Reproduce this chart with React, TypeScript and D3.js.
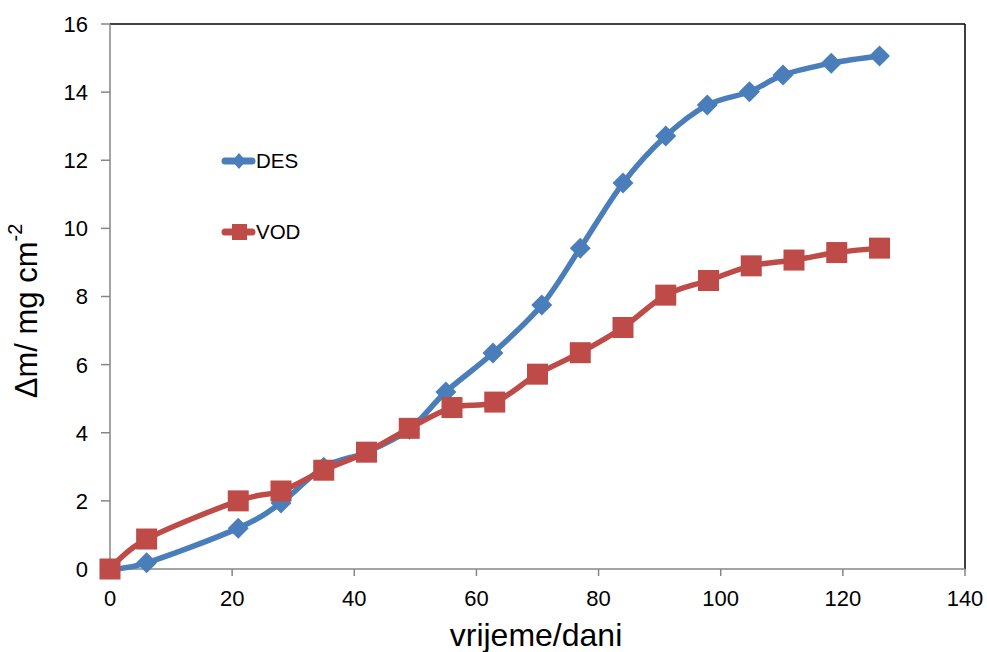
import React from "react";
import * as d3 from "d3";

const desX = [0, 6, 21, 28, 35, 42, 49, 55, 62.7, 70.7, 77, 84, 91, 97.8, 104.7, 110.2, 118.1, 126];
const desY = [0, 0.18, 1.2, 1.94, 2.99, 3.43, 4.1, 5.2, 6.34, 7.75, 9.42, 11.33, 12.71, 13.62, 14.01, 14.5, 14.85, 15.06];
const vodX = [0, 6, 21, 28, 35, 42, 49, 56, 63, 70, 77, 84, 91, 98, 105, 112, 119, 126];
const vodY = [0, 0.88, 2.0, 2.29, 2.9, 3.43, 4.13, 4.74, 4.9, 5.72, 6.35, 7.09, 8.04, 8.47, 8.9, 9.07, 9.29, 9.42];
const xTicks = [0, 20, 40, 60, 80, 100, 120, 140];
const yTicks = [0, 2, 4, 6, 8, 10, 12, 14, 16];
const seriesNames = ["DES", "VOD"];

const BLUE = "#4A7EBB";
const RED = "#BE4B48";
const AXIS = "#868686";
const FONT = "'Liberation Sans', Arial, sans-serif";

export default function App() {
  const x = d3.scaleLinear().domain([0, 140]).range([110, 965]);
  const y = d3.scaleLinear().domain([0, 16]).range([569, 24]);
  const line = d3
    .line<[number, number]>()
    .x((d) => x(d[0]))
    .y((d) => y(d[1]))
    .curve(d3.curveCatmullRom.alpha(0));
  const des: [number, number][] = desX.map((v, i) => [v, desY[i]]);
  const vod: [number, number][] = vodX.map((v, i) => [v, vodY[i]]);
  const dsz = 10.5;
  const ssz = 10.5;
  const diamond = (cx: number, cy: number, sx: number, sy: number) =>
    `M${cx},${cy - sy}L${cx + sx},${cy}L${cx},${cy + sy}L${cx - sx},${cy}Z`;

  return (
    <div style={{ position: "absolute", left: 0, top: 0 }}>
      <svg width={987} height={652} style={{ display: "block", background: "#fff" }}>
        {/* frame */}
        <line x1={110} x2={965} y1={24} y2={24} stroke="#000" strokeWidth={1.5} />
        <line x1={965} x2={965} y1={24} y2={569} stroke="#000" strokeWidth={1.5} />
        <line x1={110} x2={110} y1={24} y2={569} stroke={AXIS} strokeWidth={1.5} />
        <line x1={110} x2={965} y1={569} y2={569} stroke={AXIS} strokeWidth={1.5} />
        {yTicks.map((t) => (
          <g key={"y" + t}>
            <line x1={101} x2={110} y1={y(t)} y2={y(t)} stroke={AXIS} strokeWidth={1.5} />
            <text x={88} y={y(t)} dy="0.36em" textAnchor="end" fontFamily={FONT} fontSize={22} fill="#000">
              {t}
            </text>
          </g>
        ))}
        {xTicks.map((t) => (
          <g key={"x" + t}>
            <line x1={x(t)} x2={x(t)} y1={569} y2={576} stroke={AXIS} strokeWidth={1.5} />
            <text x={x(t)} y={598} dy="0.36em" textAnchor="middle" fontFamily={FONT} fontSize={22} fill="#000">
              {t}
            </text>
          </g>
        ))}
        <text x={536} y={646} textAnchor="middle" fontFamily={FONT} fontSize={32} fill="#000">
          vrijeme/dani
        </text>
        <text
          transform="translate(37,311) rotate(-90)"
          textAnchor="middle"
          fontFamily={FONT}
          fontSize={31}
          fill="#000"
        >
          Δm/ mg cm<tspan fontSize={20} dy="-0.75em">-2</tspan>
        </text>

        {/* series */}
        <path d={line(des) || ""} fill="none" stroke={BLUE} strokeWidth={5.5} strokeLinejoin="round" strokeLinecap="round" />
        {des.map((d, i) => (
          <path key={"d" + i} d={diamond(x(d[0]), y(d[1]), dsz, dsz)} fill={BLUE} />
        ))}
        <path d={line(vod) || ""} fill="none" stroke={RED} strokeWidth={5.5} strokeLinejoin="round" strokeLinecap="round" />
        {vod.map((d, i) => (
          <rect key={"v" + i} x={x(d[0]) - ssz} y={y(d[1]) - ssz} width={2 * ssz} height={2 * ssz} fill={RED} />
        ))}

        {/* legend */}
        <line x1={225} x2={252} y1={161} y2={161} stroke={BLUE} strokeWidth={7} strokeLinecap="round" />
        <path d={diamond(239, 161, 7, 8)} fill={BLUE} />
        <text x={256} y={161} dy="0.36em" fontFamily={FONT} fontSize={20.5} fill="#000">
          {seriesNames[0]}
        </text>
        <line x1={225} x2={252} y1={232} y2={232} stroke={RED} strokeWidth={7} strokeLinecap="round" />
        <rect x={232} y={224} width={15} height={16} fill={RED} />
        <text x={256} y={232} dy="0.36em" fontFamily={FONT} fontSize={20.5} fill="#000">
          {seriesNames[1]}
        </text>
      </svg>
    </div>
  );
}
